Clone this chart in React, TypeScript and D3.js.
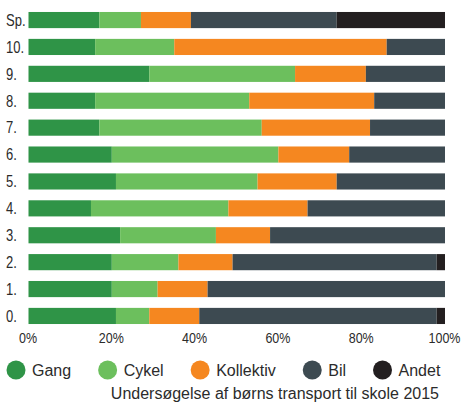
import React, { useRef, useEffect } from 'react';
import * as d3 from 'd3';

// school years, top to bottom
const categories = ['Sp.', '10.', '9.', '8.', '7.', '6.', '5.', '4.', '3.', '2.', '1.', '0.'];

// share of pupils (%) per transport mode
const gang = [17, 16, 29, 16, 17, 20, 21, 15, 22, 20, 20, 21];
const cykel = [10, 19, 35, 37, 39, 40, 34, 33, 23, 16, 11, 8];
const kollektiv = [12, 51, 17, 30, 26, 17, 19, 19, 13, 13, 12, 12];
const bil = [35, 14, 19, 17, 18, 23, 26, 33, 42, 49, 57, 57];
const andet = [26, 0, 0, 0, 0, 0, 0, 0, 0, 2, 0, 2];

const seriesNames = ['Gang', 'Cykel', 'Kollektiv', 'Bil', 'Andet'];
const seriesColors = ['#2f9447', '#6cbf5d', '#f58720', '#3d4a51', '#231f20'];
const tickValues = [0, 20, 40, 60, 80, 100];
const title = 'Undersøgelse af børns transport til skole 2015';

const width = 464;
const height = 404;
const fontFamily = '"Liberation Sans", Arial, Helvetica, sans-serif';
const textColor = '#2b2b2b';

function StackedBarChart() {
  const svgRef = useRef<SVGSVGElement>(null);

  useEffect(() => {
    const svg = d3.select(svgRef.current);
    svg.selectAll('*').remove();

    const rows = categories.map((category, i) => ({
      category,
      Gang: gang[i],
      Cykel: cykel[i],
      Kollektiv: kollektiv[i],
      Bil: bil[i],
      Andet: andet[i],
    }));

    const series = d3.stack<any>().keys(seriesNames)(rows);

    const x = d3.scaleLinear().domain([0, 100]).range([28.5, 445]);
    const y = d3
      .scaleBand()
      .domain(categories)
      .range([6.6, 329.4])
      .paddingInner(0.4)
      .paddingOuter(0.2);
    const color = d3.scaleOrdinal<string, string>().domain(seriesNames).range(seriesColors);

    // bars
    svg
      .append('g')
      .selectAll('g')
      .data(series)
      .join('g')
      .attr('fill', (d) => color(d.key))
      .selectAll('rect')
      .data((d) => d)
      .join('rect')
      .attr('x', (d) => x(d[0]))
      .attr('y', (d: any) => y(d.data.category) as number)
      .attr('width', (d) => x(d[1]) - x(d[0]))
      .attr('height', y.bandwidth());

    // category labels (left aligned)
    svg
      .append('g')
      .selectAll('text')
      .data(categories)
      .join('text')
      .attr(
        'transform',
        (d) => `translate(6, ${(y(d) as number) + y.bandwidth() / 2 + 5.8}) scale(1, 1.25)`
      )
      .attr('font-family', fontFamily)
      .attr('font-size', 13)
      .attr('fill', textColor)
      .text((d) => d);

    // x axis, labels only
    const axis = svg
      .append('g')
      .call(
        d3
          .axisBottom(x)
          .tickValues(tickValues)
          .tickSize(0)
          .tickFormat((d) => `${d}%`)
      );
    axis.select('.domain').remove();
    axis
      .selectAll('text')
      .attr('y', 0)
      .attr('dy', null)
      .attr('transform', 'translate(-1, 343) scale(1, 1.12)')
      .attr('font-family', fontFamily)
      .attr('font-size', 12.5)
      .attr('fill', textColor);

    // legend
    const legend = svg.append('g').attr('transform', 'translate(0, 370)');
    let cx = 16;
    seriesNames.forEach((name) => {
      const item = legend.append('g').attr('transform', `translate(${cx}, 0)`);
      item.append('circle').attr('r', 9.5).attr('fill', color(name));
      const label = item
        .append('text')
        .attr('x', 16)
        .attr('y', 6)
        .attr('font-family', fontFamily)
        .attr('font-size', 16)
        .attr('fill', textColor)
        .text(name);
      const w = (label.node() as SVGTextElement).getComputedTextLength();
      cx += 16 + w + 27 + 9.5;
    });

    // caption
    svg
      .append('text')
      .attr('x', 439)
      .attr('y', 399)
      .attr('text-anchor', 'end')
      .attr('font-family', fontFamily)
      .attr('font-size', 16)
      .attr('fill', textColor)
      .text(title);
  }, []);

  return <svg ref={svgRef} width={width} height={height} style={{ display: 'block' }} />;
}

export default function App() {
  return (
    <div style={{ position: 'absolute', left: 0, top: 0, background: '#fff' }}>
      <StackedBarChart />
    </div>
  );
}
